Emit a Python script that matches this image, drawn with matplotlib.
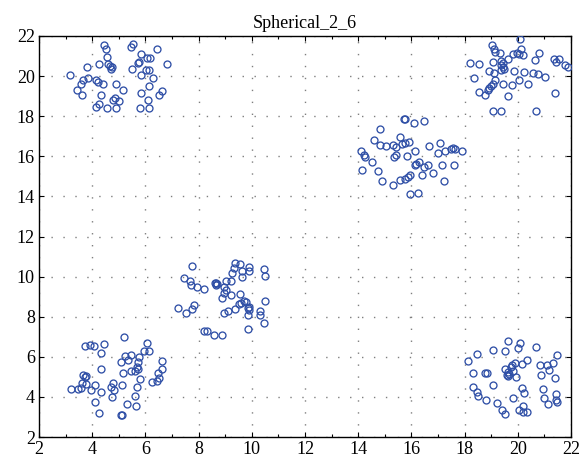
import matplotlib
matplotlib.use("Agg")
import matplotlib.pyplot as plt
from matplotlib.ticker import MultipleLocator

# Cluster data
tl_x = [3.17,4.45,4.52,4.57,3.80,4.27,4.60,4.67,4.75,4.70,5.55,5.47,5.84,6.42,6.07,6.17,5.72,5.77,6.82,5.49,
        6.02,6.14,5.85,6.27,3.65,3.57,3.85,4.15,4.22,4.42,4.90,5.15,3.42,3.62,4.32,4.77,4.87,5.00,4.15,4.27,
        4.57,4.90,5.80,6.12,5.82,6.12,6.10,6.52,6.62]
tl_y = [20.03,21.55,21.33,20.97,20.47,20.58,20.60,20.50,20.47,20.37,21.58,21.43,21.08,21.37,20.90,20.90,20.63,20.68,20.60,20.33,
        20.28,20.30,20.05,19.93,19.83,19.63,19.93,19.83,19.70,19.63,19.63,19.33,19.30,19.07,19.07,18.83,18.90,18.77,18.47,18.60,
        18.40,18.40,18.40,18.40,19.17,19.50,18.83,19.07,19.27]

tr_x = [20.08,19.03,19.10,19.15,19.33,20.13,19.83,19.98,20.05,20.18,20.78,20.65,18.20,18.53,19.05,19.38,19.43,19.38,19.45,19.35,
        19.48,19.65,21.35,21.55,21.43,21.78,21.87,18.93,19.10,19.85,20.23,20.58,20.75,21.03,18.35,20.03,19.45,19.78,20.38,19.13,
        19.08,19.00,18.93,18.88,18.55,18.78,19.65,21.38,19.05,19.38,20.68]
tr_y = [21.83,21.57,21.37,21.20,21.13,21.33,21.10,21.13,21.10,21.07,21.17,20.80,20.63,20.60,20.70,20.77,20.63,20.53,20.43,20.30,
        20.37,20.83,20.87,20.87,20.70,20.57,20.47,20.23,20.17,20.27,20.20,20.13,20.10,19.97,19.90,19.83,19.60,19.57,19.63,19.80,
        19.63,19.53,19.40,19.33,19.23,19.07,19.03,19.17,18.25,18.25,18.28]

mr_x = [15.71,15.76,16.08,16.48,14.81,14.58,15.56,14.83,15.06,15.31,15.41,15.66,15.76,15.91,16.13,15.36,15.43,15.83,14.11,14.21,
        14.26,14.51,14.16,14.76,14.91,15.31,15.58,15.76,15.88,15.96,16.13,16.18,16.28,16.48,16.61,16.38,16.81,16.68,17.08,17.00,
        17.28,17.48,17.55,17.65,17.90,17.15,17.60,17.23,15.96,16.26]
mr_y = [17.85,17.85,17.68,17.78,17.38,16.82,16.95,16.58,16.52,16.58,16.48,16.62,16.65,16.72,16.28,15.95,16.08,16.02,16.28,16.05,
        15.98,15.72,15.32,15.25,14.78,14.55,14.82,14.88,14.98,15.08,15.58,15.62,15.72,15.48,15.58,15.08,15.15,16.52,16.65,16.18,
        16.25,16.38,16.42,16.35,16.28,15.55,15.58,14.75,14.12,14.15]

mid_x = [7.77,9.37,9.57,9.32,9.62,9.89,9.91,9.62,9.27,10.44,10.51,7.44,7.67,7.72,7.94,8.19,8.62,8.67,8.69,8.64,
         9.02,9.22,8.94,9.02,8.94,8.89,9.22,9.54,9.72,9.77,9.59,9.52,9.89,9.84,9.89,9.37,9.12,8.94,10.49,10.29,
         10.31,10.46,9.87,9.87,7.22,7.52,7.74,7.84,8.22,8.32,8.57,8.87]
mid_y = [10.53,10.67,10.63,10.43,10.30,10.47,10.30,10.00,10.17,10.37,10.03,9.93,9.80,9.60,9.50,9.40,9.67,9.70,9.63,9.60,
         9.80,9.80,9.47,9.33,9.20,8.93,9.10,9.13,8.80,8.73,8.70,8.63,8.47,8.43,8.33,8.37,8.27,8.17,8.80,8.30,
         8.10,7.67,8.07,7.40,8.43,8.17,8.37,8.57,7.30,7.30,7.10,7.07]

bl_x = [5.20,3.72,3.92,4.05,4.45,4.32,6.07,5.94,6.12,5.77,5.45,5.22,5.35,5.10,5.72,5.67,5.72,5.62,6.62,6.64,
        4.32,5.15,5.45,5.80,6.47,6.52,6.44,6.24,3.67,3.77,3.72,3.60,3.77,4.10,3.22,3.45,3.57,3.97,4.32,4.77,
        4.70,4.82,5.12,5.67,4.75,5.60,4.10,5.32,5.65,4.25,5.07,5.12]
bl_y = [6.97,6.53,6.60,6.53,6.63,6.17,6.70,6.30,6.27,6.00,6.10,6.03,5.83,5.73,5.73,5.50,5.37,5.27,5.77,5.40,
        5.37,5.20,5.27,4.90,5.20,4.93,4.80,4.73,5.10,5.03,5.00,4.70,4.63,4.57,4.40,4.40,4.43,4.33,4.23,4.67,
        4.47,4.33,4.57,4.50,4.00,4.03,3.73,3.67,3.53,3.20,3.10,3.10]

br_x = [19.65,20.08,20.00,20.70,19.05,19.50,18.48,18.13,21.47,21.33,20.83,21.08,21.18,19.88,20.15,20.33,19.80,19.73,19.53,19.63,
        19.58,19.63,19.68,19.83,19.95,20.88,21.40,18.33,18.78,18.83,19.08,18.30,18.45,18.50,18.80,19.20,19.40,19.50,19.83,20.15,
        20.25,20.03,20.20,20.18,20.33,20.93,21.00,21.15,21.43,21.45,21.48]
br_y = [6.80,6.70,6.43,6.47,6.33,6.27,6.13,5.80,6.10,5.67,5.57,5.57,5.33,5.70,5.63,5.83,5.57,5.47,5.40,5.23,
        5.10,5.03,5.13,5.30,4.97,5.10,4.93,5.20,5.20,5.20,4.60,4.47,4.23,4.03,3.83,3.70,3.33,3.17,3.97,4.43,
        4.20,3.37,3.53,3.27,3.27,4.40,3.97,3.63,4.13,3.83,3.77]

title_text = "Spherical_2_6"
ticks = [2, 4, 6, 8, 10, 12, 14, 16, 18, 20, 22]

plt.rcParams['font.family'] = ['Liberation Serif', 'DejaVu Serif']
plt.rcParams['font.size'] = 13

fig = plt.figure(figsize=(5.8, 4.63), dpi=100)
ax = fig.add_axes([39/580, 1 - 437/463, (571 - 39)/580, (437 - 36)/463])

color = '#2f4fa6'
for xs, ys in [(tl_x, tl_y), (tr_x, tr_y), (mr_x, mr_y), (mid_x, mid_y), (bl_x, bl_y), (br_x, br_y)]:
    ax.plot(xs, ys, linestyle='none', marker='o', ms=5.0, mfc='none', mec=color, mew=0.95, zorder=3)

ax.set_xlim(2, 22)
ax.set_ylim(2, 22)
ax.set_xticks(ticks)
ax.set_yticks(ticks)
ax.xaxis.set_minor_locator(MultipleLocator(1))
ax.tick_params(which='both', direction='in', top=True, right=True, width=0.8, pad=3)
ax.tick_params(which='major', length=3.5)
ax.tick_params(which='minor', length=2)
ax.grid(True, which='major', color='#7f7f7f', linestyle=(0, (1, 7.6)), linewidth=1.0)
for s in ax.spines.values():
    s.set_linewidth(1.0)
ax.set_title(title_text, fontsize=13, pad=6)

fig.savefig("out.png", dpi=100)
